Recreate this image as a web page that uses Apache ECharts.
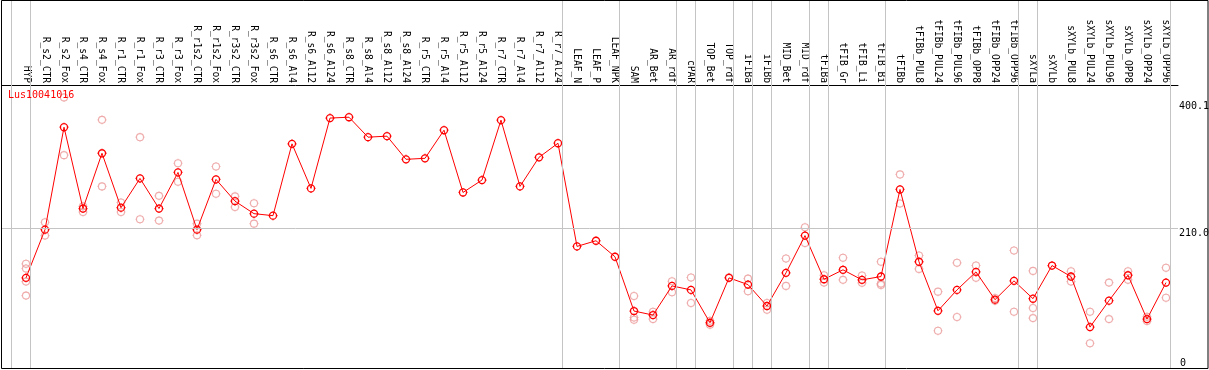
<!DOCTYPE html>
<html>
<head>
<meta charset="utf-8">
<script src="https://cdn.jsdelivr.net/npm/echarts@6/dist/echarts.min.js"></script>
<style>
html,body{margin:0;padding:0;background:#fff;}
#c{width:1209px;height:370px;}
</style>
</head>
<body>
<div id="c"></div>
<script>
const chartTitle = 'Lus10041016';
const categories = ['HYP','R_s2_CTR','R_s2_Fox','R_s4_CTR','R_s4_Fox','R_r1_CTR','R_r1_Fox','R_r3_CTR','R_r3_Fox','R_r1s2_CTR','R_r1s2_Fox','R_r3s2_CTR','R_r3s2_Fox','R_s6_CTR','R_s6_Al4','R_s6_Al12','R_s6_Al24','R_s8_CTR','R_s8_Al4','R_s8_Al12','R_s8_Al24','R_r5_CTR','R_r5_Al4','R_r5_Al12','R_r5_Al24','R_r7_CTR','R_r7_Al4','R_r7_Al12','R_r7_Al24','LEAF_N','LEAF_P','LEAF_NPK','SAM','AR_Bet','AR_rdf','cPAR','TOP_Bet','TOP_rdf','iFIBa','iFIBb','MID_Bet','MID_rdf','tFIBa','tFIB_Gr','tFIB_Li','tFIB_Bi','tFIBb','tFIBb_PUL8','tFIBb_PUL24','tFIBb_PUL96','tFIBb_OPP8','tFIBb_OPP24','tFIBb_OPP96','sXYLa','sXYLb','sXYLb_PUL8','sXYLb_PUL24','sXYLb_PUL96','sXYLb_OPP8','sXYLb_OPP24','sXYLb_OPP96'];

const meanValues = [135.5,208,362,239.7,322.8,241,285,239.7,294,208,283.5,250.8,232,229,337,270,375.7,377,347,348.5,313.7,315.2,357.5,263.9,282.5,372.6,273,316.7,337.9,182.8,191.3,167.2,85.6,79.6,123.4,117.4,68,135.5,125.4,93.2,143,199,133.4,147.6,132.5,137.5,268.4,159.7,86,117.4,144.5,102.7,131,104.2,154,137.5,61.5,101.2,139.4,73.5,128.4];

const replicateA = [156.6,219,406.8,243,373,248.8,347,258.8,307.7,217,303,258,247.7,null,null,null,null,null,null,null,null,null,null,null,null,null,null,null,null,null,null,null,108.3,84.6,130.4,136,71,136.4,134.4,97.7,164.7,211.5,139.4,165.7,139,159.7,291,169.2,114.8,158.1,154,105.3,176.7,146,null,145.5,84.6,128.4,145.5,77,150.6];
const replicateB = [149.5,199,320,234.6,273,234.6,223.6,221.6,280,199.4,262,242,217,null,null,null,null,null,null,null,null,null,null,null,null,null,null,null,null,null,null,null,76,73.5,113.8,97.7,65,null,115.3,87.6,123.4,187.8,128.4,132.5,128,126.9,247.3,149,55.9,76.6,135.5,101,84.6,90.2,null,129.9,37.3,73.5,132.5,70.5,105.7];
const replicateC = [129.9,null,null,null,null,null,null,null,null,null,null,null,null,null,null,null,null,null,null,null,null,null,null,null,null,null,null,null,null,null,null,null,72.5,null,null,null,null,null,null,null,null,null,null,null,null,124.9,null,null,null,null,null,null,null,75,null,null,null,null,null,null,null];
const replicateD = [108.8,null,null,null,null,null,null,null,null,null,null,null,null,null,null,null,null,null,null,null,null,null,null,null,null,null,null,null,null,null,null,null,null,null,null,null,null,null,null,null,null,null,null,null,null,null,null,null,null,null,null,null,null,null,null,null,null,null,null,null,null];

// group separators drawn just after these category indices
const separatorAfter = [-1,0,28,31,34,35,37,38,39,41,42,45,52,53,60];
const yUpperTicks = [210, 400.1];
const yLowerTicks = [0];
const referenceValue = 210;

const ring = 'path://M5,0L5,1.1M5,8.9L5,10M0,5L1.1,5M8.9,5L10,5' +
  'M1.1,5C1.1,2.846 2.846,1.1 5,1.1C7.154,1.1 8.9,2.846 8.9,5C8.9,7.154 7.154,8.9 5,8.9C2.846,8.9 1.1,7.154 1.1,5Z';
const MONO = '"DejaVu Sans Mono", "Liberation Mono", monospace';

function toPoints(arr){
  const out = [];
  arr.forEach((v,i)=>{ if(v!==null && v!==undefined) out.push([i,v]); });
  return out;
}

const chart = echarts.init(document.getElementById('c'), null, {renderer:'canvas'});
const lightStyle = {color:'rgba(0,0,0,0)', borderColor:'#eb9696', borderWidth:1.1};
const lightSeries = [replicateA, replicateB, replicateC, replicateD].map((arr, k) => ({
  type:'scatter', name:'rep'+k, data: toPoints(arr), symbol: ring, symbolSize: 9,
  itemStyle: lightStyle, z: 2, silent: true
}));

chart.setOption({
  animation:false,
  backgroundColor:'#fff',
  title:{text:chartTitle, left:8, top:90, padding:0,
    textStyle:{fontFamily:MONO, fontSize:10, fontWeight:'normal', color:'#ff0000'}},
  grid:{left:1.5, right:31, top:0, bottom:2, containLabel:false, outerBoundsMode:'none'},
  xAxis:{
    type:'value', position:'top', offset:-85,
    min:-1.2895, max:60.632,
    axisLine:{show:true, onZero:false, lineStyle:{color:'#000', width:1}},
    axisTick:{show:false},
    splitLine:{show:false},
    axisLabel:{show:true, customValues: categories.map((c,i)=>i), rotate:90, margin:2,
      fontFamily:MONO, fontSize:9.6, color:'#000',
      formatter:(v)=>categories[Math.round(v)] || ''}
  },
  yAxis:[
    {type:'value', position:'right', min:0, max:553.2,
      axisLine:{show:false}, axisTick:{show:false}, splitLine:{show:false},
      axisLabel:{customValues:yUpperTicks, margin:1, align:'left', verticalAlign:'top',
        fontFamily:MONO, fontSize:10, color:'#000', formatter:(v)=>Number(v).toFixed(1)}},
    {type:'value', position:'right', min:0, max:553.2,
      axisLine:{show:false}, axisTick:{show:false}, splitLine:{show:false},
      axisLabel:{customValues:yLowerTicks, margin:2, align:'left', verticalAlign:'bottom',
        fontFamily:MONO, fontSize:10, color:'#000', formatter:(v)=>String(v)}}
  ],
  graphic:[{type:'rect', silent:true, z:100,
    shape:{x:1.5, y:0.5, width:1206.5, height:368},
    style:{fill:'none', stroke:'#000', lineWidth:1}}],
  series:[
    {type:'line', name:'guides', data:[], silent:true, z:1,
      markLine:{silent:true, symbol:['none','none'], label:{show:false}, animation:false,
        lineStyle:{color:'#c4c4c4', type:'solid', width:1},
        data: separatorAfter.map(i=>({xAxis:i+0.22})).concat([{yAxis:referenceValue}])}},
    ...lightSeries,
    {type:'line', name:chartTitle, data: toPoints(meanValues), symbol: ring, symbolSize:9,
      showAllSymbol:true, z:3, silent:true,
      lineStyle:{color:'#ff0000', width:1},
      itemStyle:{color:'rgba(0,0,0,0)', borderColor:'#ff0000', borderWidth:1.3}}
  ]
});
</script>
</body>
</html>
